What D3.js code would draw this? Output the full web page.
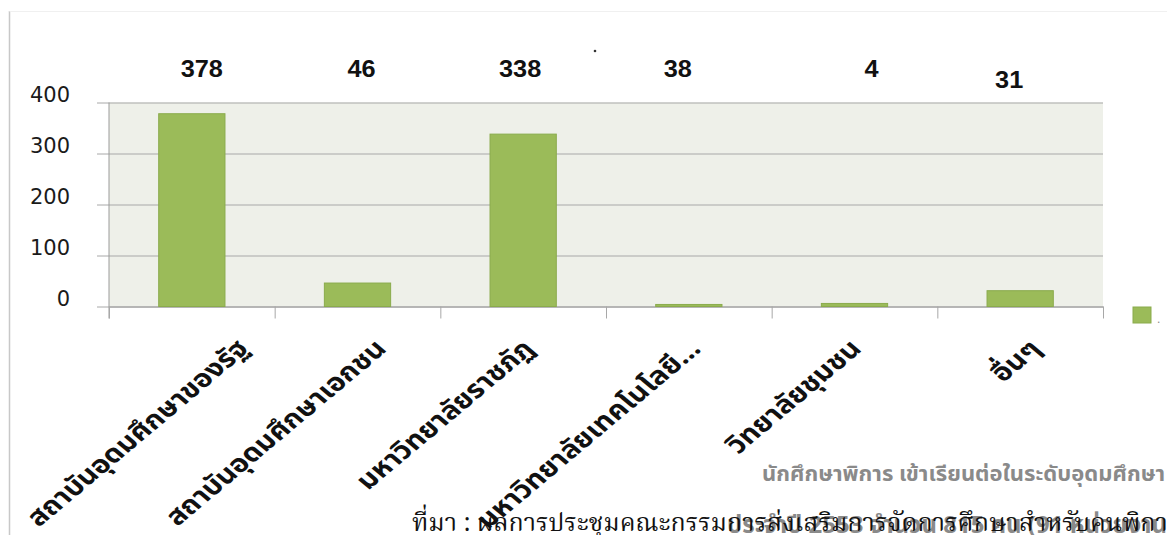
<!DOCTYPE html>
<html><head><meta charset="utf-8">
<script src="https://cdn.jsdelivr.net/npm/d3@7"></script>
<style>
html,body{margin:0;padding:0;background:#fff;overflow:hidden;}
svg{display:block;}
</style></head>
<body>
<svg id="chart" width="1167" height="535"></svg>
<script>
// ---- data ----
const categories = ["สถาบันอุดมศึกษาของรัฐ","สถาบันอุดมศึกษาเอกชน","มหาวิทยาลัยราชภัฏ","มหาวิทยาลัยเทคโนโลยี...","วิทยาลัยชุมชน","อื่นๆ"];
const values = [378, 46, 338, 4, 6, 31];
const valueLabels = ["378","46","338","38","4","31"];
const yTicks = [0, 100, 200, 300, 400];
const noteLine1 = "นักศึกษาพิการ เข้าเรียนต่อในระดับอุดมศึกษา";
const noteLine2 = "ประจำปี 2553 จำนวน 815 คน (91 หน่วยงาน)";
const sourceText = "ที่มา : ผลการประชุมคณะกรรมการส่งเสริมการจัดการศึกษาสำหรับคนพิการ";

// ---- layout ----
const labelDx = [10, 4, -3, -11, 17, -11];
const labelBase = [77, 77, 77, 77, 77, 88];
const catDx = [51, 23, 5, 6, 1, 15];
const svg = d3.select("#chart");
const thai = "'Noto Sans Thai','Noto Sans Thai UI','Loma','Garuda','Noto Sans',sans-serif";

const x = d3.scaleBand().domain(categories).range([109, 1103]).paddingInner(0.6).paddingOuter(0.3);
const y = d3.scaleLinear().domain([0, 400]).range([306.5, 102.5]);
const cx = i => x(categories[i]) + x.bandwidth() / 2;

// outer frame
svg.append("line").attr("x1", 9.5).attr("x2", 9.5).attr("y1", 11).attr("y2", 535).attr("stroke", "#c8c8c8").attr("stroke-width", 1.5);
svg.append("line").attr("x1", 9.5).attr("x2", 1167).attr("y1", 11.5).attr("y2", 11.5).attr("stroke", "#f0f0f0").attr("stroke-width", 1);

// plot background
svg.append("rect").attr("x", 109).attr("y", y(400)).attr("width", 1103 - 109).attr("height", y(0) - y(400)).attr("fill", "#eef0e9");

// grid + y axis
const yAxis = d3.axisLeft(y).tickValues(yTicks).tickSize(-(1103 - 109)).tickSizeOuter(0);
const gy = svg.append("g").attr("transform", "translate(109,0)").call(yAxis);
gy.select(".domain").remove();
gy.selectAll(".tick line").attr("stroke", "#a8a8a8").attr("x1", -12);
gy.selectAll(".tick text").attr("font-family", "'DejaVu Sans',sans-serif").attr("font-size", 21).attr("fill", "#1a1a1a").attr("dy", "-0.05em").attr("text-anchor", "end").attr("x", -39);
svg.append("line").attr("x1", 109).attr("x2", 109).attr("y1", y(400)).attr("y2", y(0) + 12).attr("stroke", "#9a9a9a");

// x axis ticks (category boundaries)
const xb = d3.scaleLinear().domain([0, categories.length]).range([109, 1103]);
const gx = svg.append("g").attr("transform", `translate(0,${y(0)})`)
  .call(d3.axisBottom(xb).tickValues(d3.range(0, categories.length + 1)).tickSize(12).tickSizeOuter(0).tickFormat(""));
gx.select(".domain").attr("stroke", "#9a9a9a");
gx.selectAll(".tick line").attr("stroke", "#a8a8a8");

// bars
svg.append("g").selectAll("rect").data(values).join("rect")
  .attr("x", (d, i) => x(categories[i]))
  .attr("y", d => y(d))
  .attr("width", x.bandwidth())
  .attr("height", d => y(0) - y(d))
  .attr("fill", "#9bbb59").attr("stroke", "#8aab4c").attr("stroke-width", 1);

// value labels
svg.append("g").selectAll("text").data(valueLabels).join("text")
  .attr("x", (d, i) => cx(i) + labelDx[i])
  .attr("y", (d, i) => labelBase[i])
  .attr("text-anchor", "middle")
  .attr("font-family", "'Liberation Sans',Arial,sans-serif").attr("font-weight", "bold").attr("font-size", 23)
  .attr("fill", "#111")
  .attr("transform", (d, i) => { const p = cx(i) + labelDx[i]; return `translate(${p},0) scale(1.1,1) translate(${-p},0)`; })
  .text(d => d);

// stray dot
svg.append("circle").attr("cx", 595).attr("cy", 51).attr("r", 1.3).attr("fill", "#333");

// category labels (rotated, horizontally stretched like the source image)
svg.append("g").selectAll("text").data(categories).join("text")
  .attr("transform", (c, i) => `translate(${cx(i) + catDx[i]},${344}) scale(1.19,1) rotate(-45)`)
  .attr("text-anchor", "end").attr("dy", "0.35em")
  .attr("font-family", thai).attr("font-weight", "bold").attr("font-size", 25).attr("fill", "#111")
  .text(c => c);

// legend
svg.append("rect").attr("x", 1133).attr("y", 307).attr("width", 18).attr("height", 16).attr("fill", "#9bbb59").attr("stroke", "#8aab4c");
svg.append("text").attr("x", 1157).attr("y", 323).attr("font-family", "sans-serif").attr("font-size", 12).attr("fill", "#888").text(".");

// notes
svg.append("text").attr("x", 762).attr("y", 481).attr("font-family", thai).attr("font-weight", "bold").attr("font-size", 22).attr("fill", "#8a8a8a").text(noteLine1);
svg.append("text").attr("x", 727).attr("y", 533).attr("font-family", thai).attr("font-weight", "bold").attr("font-size", 24).attr("fill", "#8a8a8a").text(noteLine2);
svg.append("text").attr("x", 412).attr("y", 531).attr("font-family", "'Noto Serif Thai','Loma','Garuda','Norasi',serif").attr("font-size", 25).attr("fill", "#111").text(sourceText);
</script>
</body></html>
